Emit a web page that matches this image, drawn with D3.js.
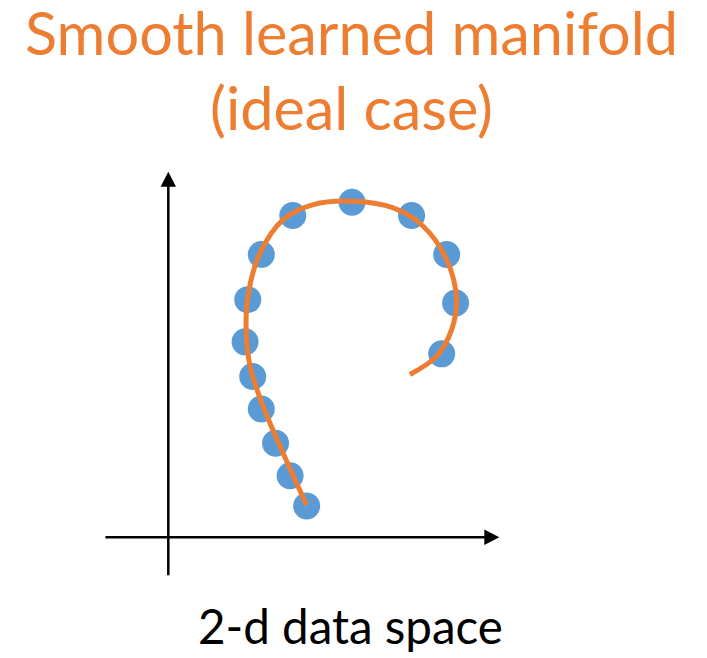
<!DOCTYPE html>
<html>
<head>
<meta charset="utf-8">
<script src="https://cdn.jsdelivr.net/npm/d3@7"></script>
<style>
  body { margin: 0; background: #fff; }
  text { font-family: Lato, "Open Sans", sans-serif; }
</style>
</head>
<body>
<svg></svg>
<script>
	var width = 707,
		height = 658;

	// sample points (blue dots), in data units
	var dotX = [4.18, 3.68, 3.24, 2.81, 2.55, 2.32, 2.40, 2.81, 3.76, 5.55, 7.35, 8.41, 8.68, 8.26];
	var dotY = [0.94, 1.85, 2.83, 3.86, 4.84, 5.88, 7.15, 8.51, 9.68, 10.08, 9.68, 8.51, 7.05, 5.52];

	// learned manifold (orange curve)
	var curveX = [4.18, 3.58, 2.87, 2.47, 2.35, 2.42, 2.77, 3.47, 4.38, 5.59, 6.80, 7.70, 8.41, 8.71, 8.56, 8.11, 7.30];
	var curveY = [0.97, 2.28, 3.93, 5.14, 6.34, 7.35, 8.55, 9.56, 10.01, 10.11, 9.91, 9.36, 8.35, 7.15, 6.25, 5.45, 4.90];

	var titleLines = ["Smooth learned manifold", "(ideal case)"];
	var xLabel = "2-d data space";

	var orange = "#ED7D31",
		blue = "#5B9BD5";

	var svg = d3.select("svg")
		.attr("width", width)
		.attr("height", height);

	var x = d3.scaleLinear().domain([0, 10]).range([168.3, 499.3]);
	var y = d3.scaleLinear().domain([0, 11]).range([537.3, 171.7]);

	// axes with arrow heads
	var axes = svg.append("g");
	axes.append("line")
		.attr("x1", x(-1.9)).attr("x2", x(9.6))
		.attr("y1", y(0)).attr("y2", y(0))
		.attr("stroke", "black").attr("stroke-width", 2.5);
	axes.append("line")
		.attr("x1", x(0)).attr("x2", x(0))
		.attr("y1", y(-1.14)).attr("y2", y(10.6))
		.attr("stroke", "black").attr("stroke-width", 2.5);
	axes.append("path")
		.attr("d", "M" + x(10) + "," + y(0) + "L" + (x(10) - 15) + "," + (y(0) - 7.8) + "L" + (x(10) - 15) + "," + (y(0) + 7.8) + "Z")
		.attr("fill", "black");
	axes.append("path")
		.attr("d", "M" + x(0) + "," + y(11) + "L" + (x(0) - 7.7) + "," + (y(11) + 15) + "L" + (x(0) + 7.7) + "," + (y(11) + 15) + "Z")
		.attr("fill", "black");

	var dots = d3.range(dotX.length).map(function(i) { return [dotX[i], dotY[i]]; });
	var curvePts = d3.range(curveX.length).map(function(i) { return [curveX[i], curveY[i]]; });

	svg.append("g").selectAll("circle")
		.data(dots)
		.enter()
		.append("circle")
		.attr("cx", function(d) { return x(d[0]); })
		.attr("cy", function(d) { return y(d[1]); })
		.attr("r", 13.5)
		.attr("fill", blue);

	var line = d3.line()
		.x(function(d) { return x(d[0]); })
		.y(function(d) { return y(d[1]); })
		.curve(d3.curveCatmullRom.alpha(0.5));

	svg.append("path")
		.datum(curvePts)
		.attr("d", line)
		.attr("fill", "none")
		.attr("stroke", orange)
		.attr("stroke-width", 5);

	// text, sized to match the reference widths
	var fitText = function(str, cx, baseline, targetWidth, color) {
		var t = svg.append("text")
			.attr("x", cx)
			.attr("y", baseline)
			.attr("text-anchor", "middle")
			.attr("fill", color)
			.style("font-size", "100px")
			.text(str);
		var w = t.node().getComputedTextLength();
		var size = 100 * targetWidth / w;
		t.style("font-size", size + "px");
		return size;
	}

	var titleSize = fitText(titleLines[0], 351.5, 54.5, 653, orange);
	svg.append("text")
		.attr("x", 351.5)
		.attr("y", 130)
		.attr("text-anchor", "middle")
		.attr("fill", orange)
		.style("font-size", titleSize + "px")
		.text(titleLines[1]);

	fitText(xLabel, 350.5, 644, 305, "black");
</script>
</body>
</html>
